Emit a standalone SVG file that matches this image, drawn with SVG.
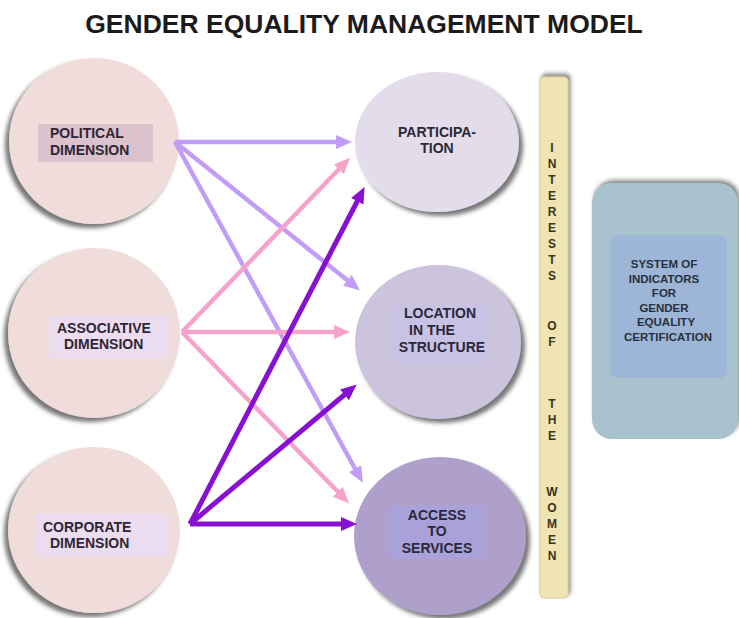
<svg xmlns="http://www.w3.org/2000/svg" width="739" height="618" viewBox="0 0 739 618">
  <defs>
    <filter id="shadowL" x="-20%" y="-20%" width="140%" height="140%">
      <feDropShadow dx="-4" dy="4" stdDeviation="2.2" flood-color="#4a4a4a" flood-opacity="0.75"/>
    </filter>
    <filter id="shadowR" x="-20%" y="-20%" width="140%" height="140%">
      <feDropShadow dx="4" dy="4" stdDeviation="2.2" flood-color="#4a4a4a" flood-opacity="0.75"/>
    </filter>
    <filter id="shadowUp" x="-30%" y="-10%" width="160%" height="120%">
      <feDropShadow dx="2" dy="-3" stdDeviation="2" flood-color="#555" flood-opacity="0.7"/>
    </filter>
    <marker id="headLight" viewBox="0 0 16 14" refX="6" refY="7" markerWidth="16" markerHeight="14" markerUnits="userSpaceOnUse" orient="auto">
      <path d="M0,0 L16,7 L0,14 z" fill="#c19df7"/>
    </marker>
    <marker id="headPink" viewBox="0 0 16 14" refX="6" refY="7" markerWidth="16" markerHeight="14" markerUnits="userSpaceOnUse" orient="auto">
      <path d="M0,0 L16,7 L0,14 z" fill="#f6a2cb"/>
    </marker>
    <marker id="headDark" viewBox="0 0 16 14" refX="6" refY="7" markerWidth="16" markerHeight="14" markerUnits="userSpaceOnUse" orient="auto">
      <path d="M0,0 L16,7 L0,14 z" fill="#8710d2"/>
    </marker>
  </defs>
  <style>
    text { font-family: "Liberation Sans", Arial, sans-serif; font-weight: bold; }
    .title { font-size: 26.5px; fill: #1b1b1b; }
    .lbl { font-size: 14px; fill: #2e2535; }
    .lblR { font-size: 14px; fill: #2a2838; text-anchor: middle; }
    .bar { font-size: 12px; fill: #3a3320; text-anchor: middle; }
    .sys { font-size: 11.5px; fill: #27303e; text-anchor: middle; }
    .dim { fill: #f1dcdc; }
    .cLight { stroke: #c19df7; stroke-width: 4.5; fill: none; marker-end: url(#headLight); }
    .cPink { stroke: #f6a2cb; stroke-width: 4.5; fill: none; marker-end: url(#headPink); }
    .cDark { stroke: #8710d2; stroke-width: 5; fill: none; marker-end: url(#headDark); }
  </style>

  <rect width="739" height="618" fill="#ffffff"/>

  <text class="title" x="364" y="33" text-anchor="middle">GENDER EQUALITY MANAGEMENT MODEL</text>

  <!-- left column: dimensions -->
  <g id="political">
    <ellipse class="dim" cx="94" cy="141" rx="85" ry="83" filter="url(#shadowL)"/>
    <rect x="38" y="124" width="115" height="38" fill="#dcc2cd"/>
    <text class="lbl" x="50" y="138">POLITICAL</text>
    <text class="lbl" x="50" y="155">DIMENSION</text>
  </g>
  <g id="associative">
    <ellipse class="dim" cx="94" cy="333" rx="86" ry="85" filter="url(#shadowL)"/>
    <rect x="50" y="316" width="120" height="42" fill="#ecdcef"/>
    <text class="lbl" x="57" y="333">ASSOCIATIVE</text>
    <text class="lbl" x="64" y="349">DIMENSION</text>
  </g>
  <g id="corporate">
    <ellipse class="dim" cx="94" cy="530" rx="86" ry="83" filter="url(#shadowL)"/>
    <rect x="35" y="514" width="134" height="42" fill="#ecdcf0"/>
    <text class="lbl" x="43" y="532">CORPORATE</text>
    <text class="lbl" x="50" y="548">DIMENSION</text>
  </g>

  <!-- middle column: areas -->
  <g id="participation">
    <ellipse cx="437" cy="142" rx="82" ry="70" fill="#e3dcea" filter="url(#shadowR)"/>
    <text class="lblR" x="437" y="137">PARTICIPA-</text>
    <text class="lblR" x="437" y="153">TION</text>
  </g>
  <g id="location">
    <ellipse cx="438" cy="342" rx="83" ry="77" fill="#ccc3dd" filter="url(#shadowR)"/>
    <rect x="393" y="305" width="94" height="58" fill="#c8c2e5"/>
    <text class="lblR" x="440" y="318">LOCATION</text>
    <text class="lblR" x="432" y="335">IN THE</text>
    <text class="lblR" x="442" y="352">STRUCTURE</text>
  </g>
  <g id="access">
    <ellipse cx="440" cy="536" rx="86" ry="79" fill="#afa0cb" filter="url(#shadowR)"/>
    <rect x="390" y="506" width="93" height="52" fill="#a9a1da"/>
    <text class="lblR" x="437" y="520">ACCESS</text>
    <text class="lblR" x="437" y="536">TO</text>
    <text class="lblR" x="437" y="553">SERVICES</text>
  </g>

  <!-- vertical band -->
  <g id="interests">
    <rect x="540" y="77" width="28" height="521" rx="4" fill="#f0e4b3" stroke="#d8cc9a" stroke-width="1" filter="url(#shadowUp)"/>
    <text class="bar" x="552" y="152">I</text>
    <text class="bar" x="552" y="168">N</text>
    <text class="bar" x="552" y="184">T</text>
    <text class="bar" x="552" y="200">E</text>
    <text class="bar" x="552" y="216">R</text>
    <text class="bar" x="552" y="232">E</text>
    <text class="bar" x="552" y="248">S</text>
    <text class="bar" x="552" y="264">T</text>
    <text class="bar" x="552" y="280">S</text>
    <text class="bar" x="552" y="330">O</text>
    <text class="bar" x="552" y="346">F</text>
    <text class="bar" x="552" y="408">T</text>
    <text class="bar" x="552" y="424">H</text>
    <text class="bar" x="552" y="440">E</text>
    <text class="bar" x="552" y="496">W</text>
    <text class="bar" x="552" y="512">O</text>
    <text class="bar" x="552" y="528">M</text>
    <text class="bar" x="552" y="544">E</text>
    <text class="bar" x="552" y="560">N</text>
  </g>

  <!-- certification box -->
  <g id="certification">
    <rect x="592" y="183" width="146" height="256" rx="20" fill="#a8c2ce" filter="url(#shadowUp)"/>
    <rect x="610" y="235" width="117" height="143" rx="8" fill="#9db5d6"/>
    <text class="sys" x="664" y="268">SYSTEM OF</text>
    <text class="sys" x="664" y="283">INDICATORS</text>
    <text class="sys" x="664" y="297">FOR</text>
    <text class="sys" x="664" y="312">GENDER</text>
    <text class="sys" x="666" y="326">EQUALITY</text>
    <text class="sys" x="668" y="341">CERTIFICATION</text>
  </g>

  <!-- connectors -->
  <g id="connectors">
    <line class="cLight" x1="175" y1="142" x2="342" y2="142"/>
    <line class="cLight" x1="175" y1="142" x2="352" y2="284"/>
    <line class="cLight" x1="175" y1="142" x2="358" y2="474"/>
    <line class="cPink" x1="182" y1="332" x2="343" y2="165"/>
    <line class="cPink" x1="182" y1="332" x2="340" y2="332"/>
    <line class="cPink" x1="182" y1="332" x2="342" y2="496"/>
    <line class="cDark" x1="190" y1="524" x2="360" y2="196"/>
    <line class="cDark" x1="190" y1="524" x2="349" y2="391"/>
    <line class="cDark" x1="190" y1="524" x2="347" y2="524"/>
  </g>
</svg>
